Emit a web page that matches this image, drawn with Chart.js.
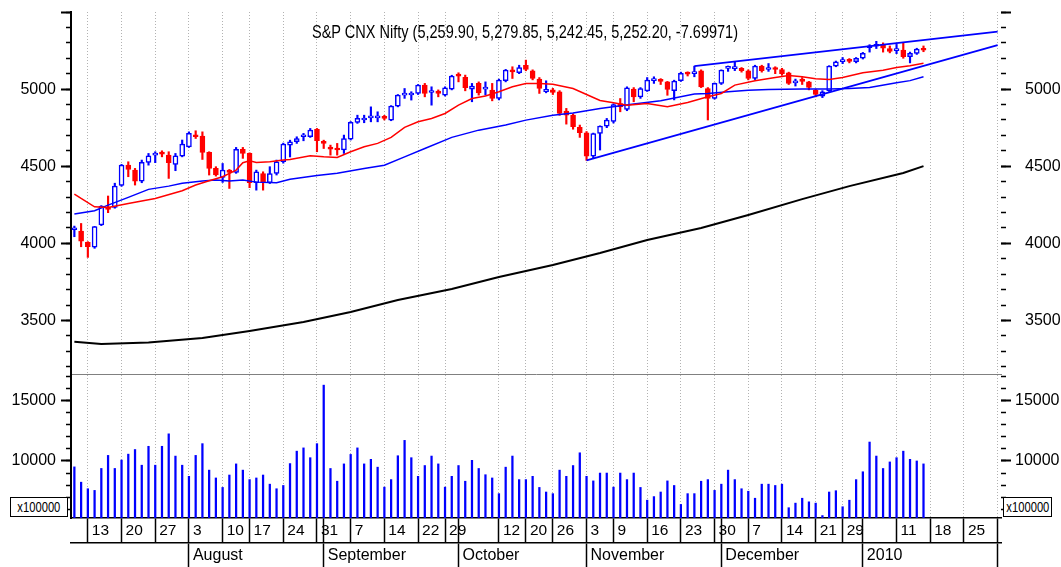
<!DOCTYPE html>
<html>
<head>
<meta charset="utf-8">
<title>S&amp;P CNX Nifty</title>
<script src="https://cdn.jsdelivr.net/npm/chart.js@4.4.0/dist/chart.umd.min.js"></script>
<style>
  html, body { margin: 0; padding: 0; background: #fff; }
  #wrap { position: relative; width: 1061px; height: 567px; overflow: hidden; background: #fff; }
  #priceCanvas { position: absolute; left: 0; top: 0; }
  #volCanvas { position: absolute; left: 0; top: 375px; }
  .title {
    position: absolute; top: 22px; left: 525px; transform: translateX(-50%) scaleX(0.83);
    white-space: nowrap; color: #000;
    font-family: 'Liberation Sans', Arial, sans-serif; font-size: 17.5px;
  }
  .unit {
    position: absolute; top: 497px; height: 20px; box-sizing: border-box;
    border: 1.5px solid #000; background: #fff; color: #000; overflow: hidden;
    display: flex; justify-content: center; align-items: center;
    font-family: 'Liberation Sans', Arial, sans-serif; font-size: 14px; line-height: 17px;
  }
  .unit span { display: inline-block; white-space: nowrap; transform: scaleX(0.8); }
</style>
</head>
<body>
<div id="wrap">
  <canvas id="priceCanvas" width="1061" height="375"></canvas>
  <canvas id="volCanvas" width="1061" height="192"></canvas>
  <div class="title">S&amp;P CNX Nifty (5,259.90, 5,279.85, 5,242.45, 5,252.20, -7.69971)</div>
  <div class="unit" style="left:10px;width:58px"><span>x100000</span></div>
  <div class="unit" style="left:1003px;width:49px"><span>x100000</span></div>
</div>
<script>
// Trading days (the last ones are empty slots on the axis)
const dayLabels = [
  '2009-07-09','2009-07-10','2009-07-13','2009-07-14','2009-07-15','2009-07-16','2009-07-17',
  '2009-07-20','2009-07-21','2009-07-22','2009-07-23','2009-07-24',
  '2009-07-27','2009-07-28','2009-07-29','2009-07-30','2009-07-31',
  '2009-08-03','2009-08-04','2009-08-05','2009-08-06','2009-08-07',
  '2009-08-10','2009-08-11','2009-08-12','2009-08-13',
  '2009-08-17','2009-08-18','2009-08-19','2009-08-20','2009-08-21',
  '2009-08-24','2009-08-25','2009-08-26','2009-08-27','2009-08-28',
  '2009-08-31','2009-09-01','2009-09-02','2009-09-03','2009-09-04',
  '2009-09-07','2009-09-08','2009-09-09','2009-09-10','2009-09-11',
  '2009-09-14','2009-09-15','2009-09-16','2009-09-17','2009-09-18',
  '2009-09-22','2009-09-23','2009-09-24','2009-09-25',
  '2009-09-29','2009-09-30','2009-10-01',
  '2009-10-05','2009-10-06','2009-10-07','2009-10-08','2009-10-09',
  '2009-10-12','2009-10-14','2009-10-15','2009-10-16',
  '2009-10-20','2009-10-21','2009-10-22','2009-10-23',
  '2009-10-26','2009-10-27','2009-10-28','2009-10-29','2009-10-30',
  '2009-11-03','2009-11-04','2009-11-05','2009-11-06',
  '2009-11-09','2009-11-10','2009-11-11','2009-11-12','2009-11-13',
  '2009-11-16','2009-11-17','2009-11-18','2009-11-19','2009-11-20',
  '2009-11-23','2009-11-24','2009-11-25','2009-11-26','2009-11-27',
  '2009-11-30','2009-12-01','2009-12-02','2009-12-03','2009-12-04',
  '2009-12-07','2009-12-08','2009-12-09','2009-12-10','2009-12-11',
  '2009-12-14','2009-12-15','2009-12-16','2009-12-17','2009-12-18',
  '2009-12-21','2009-12-22','2009-12-23','2009-12-24',
  '2009-12-29','2009-12-30','2009-12-31',
  '2010-01-04','2010-01-05','2010-01-06','2010-01-07','2010-01-08',
  '2010-01-11','2010-01-12','2010-01-13','2010-01-14','2010-01-15',
  '2010-01-18','2010-01-19','2010-01-20','2010-01-21','2010-01-22',
  '2010-01-25','2010-01-26','2010-01-27','2010-01-28','2010-01-29',
  '2010-02-01'
];

const opens = [4088,4080,4006,3975,4119,4233,4233,4376,4507,4475, 4404,4525,4572,4587,4572,4512,4566,4626,4702,4695,
  4590,4486,4428,4475,4460,4609,4583,4393,4453,4393, 4453,4529,4637,4659,4691,4691,4739,4656,4620,4613,
  4605,4676,4784,4800,4814,4814,4821,4799,4890,4961, 4962,4972,5026,4978,4987,4961,5000,5095,5076,5000,
  5037,5000,4993,4939,5054,5123,5106,5155,5119,5065, 4983,4995,4983,4857,4831,4752,4717,4565,4713,4760,
  4790,4907,4868,5000,4950,4989,5055,5062,5047,4990, 5054,5106,5100,5119,5004,4939,5037,5134,5133,5134,
  5119,5069,5149,5127,5134,5127,5106,5040,5065,5047, 4992,4955,4989,5149,5178,5188,5178,5200,5268,5278,
  5285,5263,5250,5253,5210,5232,5259.9];
const highs = [4112,4129,4011,4110,4245,4307,4390,4512,4529,4486, 4540,4583,4594,4600,4594,4583,4670,4723,4730,4723,
  4594,4497,4518,4479,4622,4622,4587,4475,4464,4497, 4540,4650,4669,4691,4713,4745,4745,4669,4637,4648,
  4702,4790,4831,4831,4885,4853,4830,4893,4965,5004, 4983,5030,5037,5015,4995,5015,5090,5106,5091,5037,
  5047,5047,5037,5065,5128,5145,5155,5188,5125,5075, 5054,5005,4990,4875,4840,4767,4725,4715,4762,4810,
  4905,4939,5015,5010,5010,5075,5080,5068,5050,5058, 5110,5112,5149,5125,5010,5040,5125,5150,5177,5140,
  5125,5155,5155,5166,5145,5135,5110,5065,5075,5050, 5000,4990,5152,5182,5205,5198,5205,5238,5288,5310,
  5300,5280,5290,5300,5240,5265,5279.85];
const lows = [4043,3978,3909,3968,4115,4199,4228,4370,4432,4378, 4393,4507,4523,4561,4421,4471,4561,4622,4680,4544,
  4443,4436,4395,4356,4454,4551,4361,4345,4345,4388, 4443,4520,4560,4648,4665,4687,4594,4615,4572,4572,
  4583,4670,4778,4782,4788,4788,4800,4795,4885,4940, 4929,4965,4950,4896,4950,4955,4995,5047,4989,4918,
  4961,4961,4924,4930,5047,5069,5100,5119,5060,4972, 4976,4965,4830,4773,4740,4687,4538,4550,4605,4750,
  4780,4853,4860,4918,4940,4985,5037,5030,4960,4930, 5050,5085,5080,5010,4800,4935,5030,5115,5120,5110,
  5060,5062,5110,5115,5100,5090,5030,5020,5030,4995, 4950,4945,4985,5145,5165,5170,5170,5195,5240,5263,
  5240,5235,5230,5200,5170,5225,5242.45];
const closes = [4094,4015,3978,4108,4242,4220,4371,4507,4479,4404, 4525,4568,4581,4579,4523,4568,4644,4713,4691,4590,
  4486,4443,4475,4460,4609,4583,4393,4464,4393,4453, 4529,4644,4659,4680,4698,4734,4665,4648,4611,4605,
  4680,4784,4810,4810,4825,4825,4810,4890,4961,4972, 4970,5026,4972,4989,4972,5009,5084,5084,5009,5019,
  4976,5009,4939,5058,5123,5112,5140,5127,5069,5004, 4998,4978,4842,4831,4756,4717,4565,4712,4760,4799,
  4900,4885,5009,4950,5004,5058,5062,5050,4998,5052, 5103,5097,5110,5015,4939,5037,5123,5143,5140,5119,
  5069,5149,5119,5140,5127,5100,5037,5047,5050,5011, 4966,4983,5149,5177,5186,5180,5200,5232,5276,5285,
  5265,5245,5252,5210,5232,5260,5252.2];

// Volume, in units of 100000
const volumes = [9514,8249,7707,7569,9384,10462,9384,10081,10567,10948, 9652,11216,9652,11216,12245,10405,9652,8735,10462,11434,
  9246,8598,7815,8841,9760,9246,8463,8598,8841,8085, 7707,7977,9787,10813,11083,10273,11434,16269,9381,8328,
  9760,10543,11083,9760,10138,9490,7842,8463,10435,11704, 10273,8733,9625,10408,9760,7842,8733,9625,8328,10057,
  9381,8866,8598,7302,9490,10408,8463,8463,8733,7815, 7437,7302,9246,8733,9625,10678,8733,8355,9003,9003,
  7842,9003,8463,9003,7815,6761,7058,7437,8355,7977, 6410,7302,7302,8328,8463,7572,8085,9246,8463,7707,
  7500,6923,8085,8085,7977,8085,6140,6518,6923,6626, 6518,5490,7437,7545,6219,6760,8461,9111,11567,10408,
  9381,9922,10273,10813,10138,10003,9760];

// Moving averages (day index -> value)
const redMaDays = [0,1,3,5,8,12,16,18,20,22,24,25,26,27,29,31,32,35,37,39,41,43,45,47,49,51,53,55,57,59,
  61,63,65,67,69,71,74,76,78,80,82,85,88,91,94,96,98,101,104,106,108,110,112,114,117,120,122,124,126];
const redMaValues = [4320,4291,4237,4233,4259,4291,4341,4378,4406,4432,4475,4523,4536,4525,4529,4540,4544,4568,4561,4557,
  4594,4626,4648,4687,4752,4788,4810,4842,4896,4939,4955,4983,5015,5037,5037,5032,5004,4965,4926,4911,
  4896,4907,4885,4913,4950,4972,5026,5054,5075,5088,5080,5067,5062,5075,5106,5122,5140,5152,5168];
const blueMaDays = [0,3,5,8,11,14,16,19,21,23,25,27,30,32,36,39,43,46,49,52,56,60,64,67,71,74,78,83,87,92,
  94,97,100,103,108,112,115,118,122,124,126];
const blueMaValues = [4190,4212,4248,4298,4350,4371,4389,4404,4410,4404,4410,4397,4393,4415,4440,4455,4486,4507,4561,4615,
  4687,4734,4767,4799,4831,4845,4875,4903,4924,4968,4972,4983,4993,4998,5000,5000,5004,5011,5041,5055,5080];
const blackMaDays = [0,4,11,19,26,34,41,48,56,63,71,78,85,93,100,108,115,123,126];
const blackMaValues = [3362,3348,3358,3387,3432,3490,3555,3633,3704,3782,3860,3937,4022,4100,4184,4287,4371,4456,4501];

// Trend lines (two end points each)
const upperTrendDays = ['2009-11-25', '2010-02-01'];
const upperTrendValues = [5149, 5373];
const lowerTrendDays = ['2009-11-03', '2010-02-01'];
const lowerTrendValues = [4538, 5285];

// Axis labels
const dayTickDates = ['2009-07-13','2009-07-20','2009-07-27','2009-08-03','2009-08-10','2009-08-17','2009-08-24',
  '2009-08-31','2009-09-07','2009-09-14','2009-09-22','2009-09-29','2009-10-12','2009-10-20','2009-10-26',
  '2009-11-03','2009-11-09','2009-11-16','2009-11-23','2009-11-30','2009-12-07','2009-12-14','2009-12-21',
  '2009-12-29','2010-01-11','2010-01-18','2010-01-25'];
const dayTickLabels = ['13','20','27','3','10','17','24','31','7','14','22','29','12','20','26',
  '3','9','16','23','30','7','14','21','29','11','18','25'];
const monthTickDates = ['2009-08-03','2009-09-01','2009-10-01','2009-11-03','2009-12-01','2010-01-04','2010-02-01'];
const monthTickLabels = ['August','September','October','November','December','2010',''];

const priceRange = [3153, 5500];
const priceMajorTicks = [3500, 4000, 4500, 5000, 5500];
const priceLabelled = [3500, 4000, 4500, 5000];
const volumeRange = [5289, 17107];
const volumeMajorTicks = [10000, 15000];
const volumeLabelled = [10000, 15000];

const BLUE = '#0000ff';
const RED = '#ff0000';
const SANS = "'Liberation Sans', Arial, sans-serif";
const GRID = 'rgba(0, 0, 0, 0.3)';

// minor tick marks every 100 points / every 1000 units of volume
function stepTicks(from, to, step) {
  const out = [];
  for (let v = from; v <= to; v += step) out.push(v);
  return out;
}
const priceMinorTicks = stepTicks(3200, 5500, 100);
const volumeMinorTicks = stepTicks(6000, 17000, 1000);

const idx = d => dayLabels.indexOf(d);
const dayTickMap = {};
dayTickDates.forEach((d, i) => { dayTickMap[idx(d)] = dayTickLabels[i]; });
const monthTickMap = {};
monthTickDates.forEach((d, i) => { monthTickMap[idx(d)] = monthTickLabels[i]; });
const lastSlot = dayLabels.length - 1;
const gridSet = new Set(Object.keys(dayTickMap).map(Number).concat([lastSlot]));
const monthSet = new Set(Object.keys(monthTickMap).map(Number));
const rowMarkSet = new Set([...gridSet, ...monthSet]);

const candleColor = closes.map((c, i) => (c >= opens[i] ? BLUE : RED));
const points = (days, values) => days.map((d, i) => ({ x: typeof d === 'number' ? dayLabels[d] : d, y: values[i] }));

// the scales must not push the plot area inwards
function noPadding(s) {
  s.paddingTop = 0; s.paddingBottom = 0; s.paddingLeft = 0; s.paddingRight = 0;
}

function valueAxis(position, range, tickValues, major, labelled, labelPad) {
  return {
    type: 'linear',
    position: position,
    min: range[0],
    max: range[1],
    weight: major ? 1 : 0,
    afterBuildTicks: s => { s.ticks = tickValues.map(v => ({ value: v })); },
    ticks: {
      display: major,
      padding: labelPad,
      color: '#000',
      font: { family: SANS, size: 16 },
      callback: v => (labelled.includes(v) ? String(v) : '')
    },
    grid: {
      drawOnChartArea: false,
      drawTicks: true,
      tickLength: major ? 10 : 5,
      color: '#000',
      tickColor: '#000',
      tickWidth: major ? 2 : 1.5
    },
    border: { display: major && position === 'left', color: '#000', width: 2 },
    afterFit: s => {
      s.width = major ? (position === 'left' ? 71 : 60) : 0;
      noPadding(s);
    }
  };
}

function line(data, color, width) {
  return {
    type: 'line', data: data, borderColor: color, borderWidth: width,
    pointRadius: 0, tension: 0, fill: false, order: 0, xAxisID: 'x', yAxisID: 'yL'
  };
}

// Price panel: candles, moving averages, trend lines
new Chart(document.getElementById('priceCanvas'), {
  type: 'bar',
  data: {
    labels: dayLabels,
    datasets: [
      line(points(blackMaDays, blackMaValues), '#000', 2),
      line(points(redMaDays, redMaValues), RED, 1.5),
      line(points(blueMaDays, blueMaValues), BLUE, 1.5),
      line(points(upperTrendDays, upperTrendValues), BLUE, 1.8),
      line(points(lowerTrendDays, lowerTrendValues), BLUE, 1.8),
      {
        label: 'body',
        data: opens.map((o, i) => [o, closes[i]]),
        backgroundColor: candleColor.map(c => (c === BLUE ? '#fff' : RED)),
        borderColor: candleColor,
        borderWidth: 1.5,
        borderSkipped: false,
        barThickness: 5,
        minBarLength: 2,
        grouped: false,
        order: 1,
        xAxisID: 'x', yAxisID: 'yL'
      },
      {
        label: 'wick',
        data: lows.map((l, i) => [l, highs[i]]),
        backgroundColor: candleColor,
        borderWidth: 0,
        barThickness: 1.5,
        grouped: false,
        order: 2,
        xAxisID: 'x', yAxisID: 'yL'
      }
    ]
  },
  options: {
    responsive: false,
    animation: false,
    events: [],
    layout: { autoPadding: false, padding: { top: 12, bottom: 1, left: 0, right: 0 } },
    plugins: { legend: { display: false }, tooltip: { enabled: false } },
    scales: {
      x: {
        type: 'category',
        position: 'bottom',
        offset: true,
        ticks: { display: false, autoSkip: false, maxRotation: 0, minRotation: 0 },
        grid: {
          offset: false,
          drawTicks: false,
          lineWidth: 1,
          color: c => (gridSet.has(c.index) ? GRID : 'transparent')
        },
        border: { display: true, color: '#808080', width: 1, dash: [1, 2] },
        afterFit: s => { s.height = 0; noPadding(s); }
      },
      yL: valueAxis('left', priceRange, priceMajorTicks, true, priceLabelled, 5),
      yLm: valueAxis('left', priceRange, priceMinorTicks, false, priceLabelled, 5),
      yRm: valueAxis('right', priceRange, priceMinorTicks, false, priceLabelled, 14),
      yR: valueAxis('right', priceRange, priceMajorTicks, true, priceLabelled, 14)
    }
  }
});

// Volume panel with the two-row date axis
new Chart(document.getElementById('volCanvas'), {
  type: 'bar',
  data: {
    labels: dayLabels,
    datasets: [{
      data: volumes,
      backgroundColor: BLUE,
      barThickness: 1.6,
      xAxisID: 'x', yAxisID: 'vL'
    }]
  },
  options: {
    responsive: false,
    animation: false,
    events: [],
    layout: { autoPadding: false, padding: 0 },
    plugins: { legend: { display: false }, tooltip: { enabled: false } },
    scales: {
      x: {
        type: 'category',
        position: 'bottom',
        offset: true,
        weight: 0,
        ticks: {
          autoSkip: false, maxRotation: 0, minRotation: 0,
          align: 'start', labelOffset: 4, padding: -22,
          color: '#000', font: { family: SANS, size: 15.5 },
          callback: (v, i) => dayTickMap[i] || ''
        },
        grid: {
          offset: false,
          drawTicks: true,
          tickLength: 25,
          lineWidth: 1,
          color: c => (gridSet.has(c.index) ? GRID : 'transparent'),
          tickColor: c => (rowMarkSet.has(c.index) ? '#000' : 'transparent'),
          tickWidth: 1.5,
          tickBorderDash: []
        },
        border: { display: true, color: '#000', width: 1.5, dash: [1, 2] },
        afterFit: s => { s.height = 25; noPadding(s); }
      },
      xm: {
        type: 'category',
        position: 'bottom',
        offset: true,
        weight: 1,
        ticks: {
          autoSkip: false, maxRotation: 0, minRotation: 0,
          align: 'start', labelOffset: 4, padding: -21,
          color: '#000', font: { family: SANS, size: 16 },
          callback: (v, i) => monthTickMap[i] || ''
        },
        grid: {
          offset: false,
          drawOnChartArea: false,
          drawTicks: true,
          tickLength: 24,
          color: 'transparent',
          tickColor: c => (monthSet.has(c.index) ? '#000' : 'transparent'),
          tickWidth: 1.5,
          tickBorderDash: []
        },
        border: { display: true, color: '#000', width: 1.5 },
        afterFit: s => { s.height = 24; noPadding(s); }
      },
      vL: valueAxis('left', volumeRange, volumeMajorTicks, true, volumeLabelled, 5),
      vLm: valueAxis('left', volumeRange, volumeMinorTicks, false, volumeLabelled, 5),
      vRm: valueAxis('right', volumeRange, volumeMinorTicks, false, volumeLabelled, 4),
      vR: valueAxis('right', volumeRange, volumeMajorTicks, true, volumeLabelled, 4)
    }
  }
});
</script>
</body>
</html>
